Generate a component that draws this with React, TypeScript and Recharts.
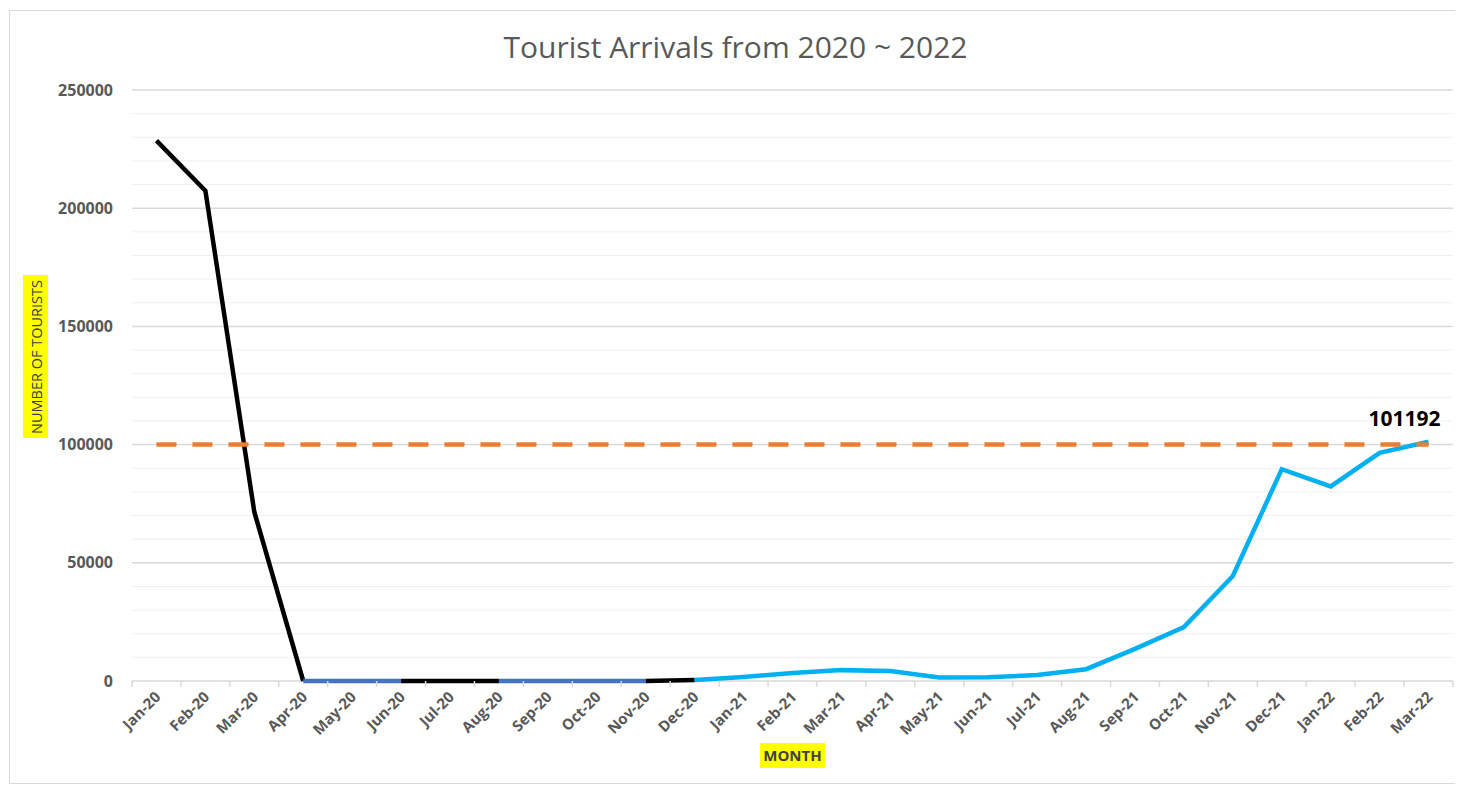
import React from "react";
import {
  LineChart,
  Line,
  XAxis,
  YAxis,
  CartesianGrid,
  ReferenceLine,
  LabelList,
} from "recharts";

const months = [
  "Jan-20", "Feb-20", "Mar-20", "Apr-20", "May-20", "Jun-20", "Jul-20", "Aug-20", "Sep-20",
  "Oct-20", "Nov-20", "Dec-20", "Jan-21", "Feb-21", "Mar-21", "Apr-21", "May-21", "Jun-21",
  "Jul-21", "Aug-21", "Sep-21", "Oct-21", "Nov-21", "Dec-21", "Jan-22", "Feb-22", "Mar-22",
];

const arrivals = [
  228600, 207400, 71500, 0, 0, 0, 0, 0, 0,
  0, 0, 400, 1700, 3400, 4600, 4200, 1500, 1600,
  2500, 5000, 13600, 22800, 44400, 89600, 82300, 96500, 101192,
];

const target = 100000;

// line colour changes along the series: [first index, last index, colour]
const segments: [number, number, string][] = [
  [0, 3, "#000000"],
  [3, 5, "#4472C4"],
  [5, 7, "#000000"],
  [7, 10, "#4472C4"],
  [10, 11, "#000000"],
  [11, 26, "#00B0F0"],
];

const majorTicks = [0, 50000, 100000, 150000, 200000, 250000];
const minorTicks = [
  10000, 20000, 30000, 40000, 60000, 70000, 80000, 90000, 110000, 120000, 130000, 140000,
  160000, 170000, 180000, 190000, 210000, 220000, 230000, 240000,
];

const W = 1455;
const H = 778;
const margin = { top: 82, right: 10, bottom: 35, left: 0 };
const yAxisWidth = 124;
const step = (W - margin.left - margin.right - yAxisWidth) / months.length;
const font = "'Open Sans', sans-serif";

const data = months.map((m, i) => {
  const row: Record<string, any> = { month: m, target };
  segments.forEach(([a, b], s) => {
    row["s" + s] = i >= a && i <= b ? arrivals[i] : null;
  });
  return row;
});

function MonthTick(props: any) {
  const { x, y, payload, index } = props;
  const tx = x + 5;
  const ty = y + 17;
  return (
    <g>
      <line x1={x - step / 2} x2={x - step / 2} y1={y} y2={y + 6} stroke="#d9d9d9" strokeWidth={1.5} />
      {index === months.length - 1 && (
        <line x1={x + step / 2} x2={x + step / 2} y1={y} y2={y + 6} stroke="#d9d9d9" strokeWidth={1.5} />
      )}
      <text
        x={tx}
        y={ty}
        textAnchor="end"
        transform={`rotate(-45 ${tx} ${ty})`}
        fill="#595959"
        fontSize={15}
        fontWeight={700}
        fontFamily={font}
      >
        {payload.value}
      </text>
    </g>
  );
}

function LastLabel(props: any) {
  const { x, y, index, value } = props;
  if (index !== months.length - 1) return null;
  return (
    <text
      x={x - 24}
      y={y - 16}
      textAnchor="middle"
      fill="#000"
      fontSize={21}
      fontWeight={700}
      fontFamily={font}
    >
      {value}
    </text>
  );
}

export default function App() {
  return (
    <div style={{ position: "relative", width: W, height: H, fontFamily: font, background: "#fff" }}>
      <div
        style={{
          position: "absolute",
          left: 1,
          top: 2,
          width: W - 5,
          height: H - 4,
          border: "1.5px solid #d9d9d9",
          boxSizing: "border-box",
        }}
      />
      <div
        style={{
          position: "absolute",
          left: 0,
          width: W,
          top: 19,
          textAlign: "center",
          fontSize: 30,
          lineHeight: "40px",
          color: "#595959",
        }}
      >
        Tourist Arrivals from 2020 ~ 2022
      </div>
      <div
        style={{
          position: "absolute",
          left: 15,
          top: 267,
          width: 25,
          height: 163,
          background: "#ffff00",
        }}
      >
        <div
          style={{
            position: "absolute",
            left: 12.5,
            top: 81.5,
            transform: "translate(-50%, -50%) rotate(-90deg)",
            whiteSpace: "nowrap",
            fontSize: 14.5,
            color: "#404040",
          }}
        >
          NUMBER OF TOURISTS
        </div>
      </div>
      <div
        style={{
          position: "absolute",
          left: 752,
          top: 735,
          width: 65,
          height: 25,
          lineHeight: "25px",
          background: "#ffff00",
          textAlign: "center",
          fontSize: 15,
          fontWeight: 700,
          color: "#404040",
        }}
      >
        MONTH
      </div>
      <div style={{ position: "absolute", left: 0, top: 0 }}>
        <LineChart width={W} height={H} data={data} margin={margin}>
          {minorTicks.map((v) => (
            <ReferenceLine key={v} y={v} stroke="#efefef" strokeWidth={1} />
          ))}
          <CartesianGrid vertical={false} stroke="#d9d9d9" strokeWidth={1.5} />
          <XAxis
            dataKey="month"
            interval={0}
            tickSize={0}
            tickMargin={0}
            tickLine={false}
            padding={{ left: step / 2, right: step / 2 }}
            axisLine={false}
            tick={<MonthTick />}
            height={70}
          />
          <YAxis
            width={yAxisWidth}
            domain={[0, 250000]}
            ticks={majorTicks}
            tickSize={0}
            tickMargin={19}
            tickLine={false}
            axisLine={false}
            tick={{ fill: "#595959", fontSize: 16, fontWeight: 700, fontFamily: font }}
          />
          {segments.map(([, , color], s) => (
            <Line
              key={s}
              dataKey={"s" + s}
              type="linear"
              stroke={color}
              strokeWidth={4.5}
              dot={false}
              activeDot={false}
              isAnimationActive={false}
              connectNulls={false}
            >
              {s === segments.length - 1 && <LabelList dataKey={"s" + s} content={<LastLabel />} />}
            </Line>
          ))}
          <Line
            dataKey="target"
            type="linear"
            stroke="#ED7D31"
            strokeWidth={4.5}
            strokeDasharray="20 16"
            dot={false}
            activeDot={false}
            isAnimationActive={false}
          />
        </LineChart>
      </div>
    </div>
  );
}
